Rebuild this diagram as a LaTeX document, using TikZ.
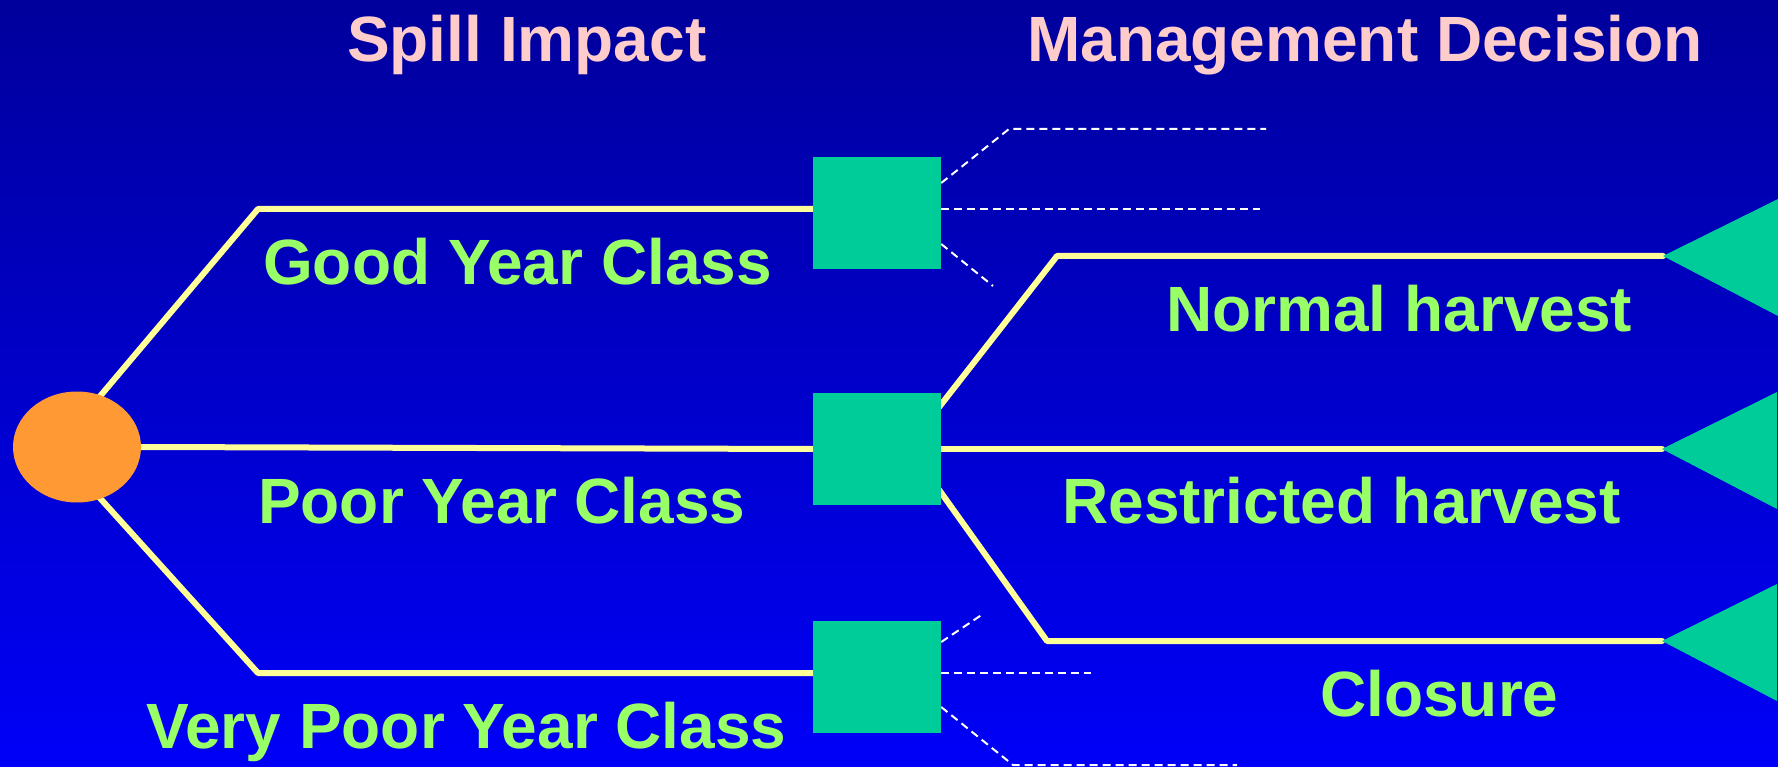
\documentclass[tikz,border=0pt]{standalone}
\usepackage{fontspec}
\setmainfont{Liberation Sans}
\usetikzlibrary{calc,shapes.geometric}
\pgfdeclarelayer{bg}
\pgfdeclarelayer{lines}
\pgfsetlayers{bg,lines,main}
\definecolor{bgtop}{HTML}{00009C}
\definecolor{bgbot}{HTML}{0000F8}
\definecolor{sqcol}{HTML}{00CC99}
\definecolor{circcol}{HTML}{FF9933}
\definecolor{ylw}{HTML}{FFFF99}
\definecolor{grn}{HTML}{99FF66}
\definecolor{pnk}{HTML}{FFCCCC}
\tikzset{
  sqbox/.style={fill=sqcol, minimum width=128pt, minimum height=112pt, inner sep=0pt, draw=none},
  chance/.style={ellipse, fill=circcol, minimum width=128pt, minimum height=111pt, inner sep=0pt},
  ybranch/.style={draw=ylw, line width=6pt, line join=round, line cap=round},
  dbranch/.style={draw=white, line width=2pt, dash pattern=on 8pt off 5pt},
  tri/.style={fill=sqcol},
  lbl/.style={anchor=base west, inner sep=0pt, text=grn, font=\fontsize{64}{70}\selectfont\bfseries},
  ttl/.style={anchor=base west, inner sep=0pt, text=pnk, font=\fontsize{64}{70}\selectfont\bfseries}
}
\begin{document}
\begin{tikzpicture}[x=1pt,y=-1pt]
\begin{pgfonlayer}{bg}
\shade[top color=bgtop, bottom color=bgbot] (0,0) rectangle (1778,767);
\end{pgfonlayer}
\useasboundingbox (0,0) rectangle (1778,767);

% nodes
\node[chance] (c) at (77,447) {};
\node[sqbox] (sq1) at (877,213) {};
\node[sqbox] (sq2) at (877,449) {};
\node[sqbox] (sq3) at (877,677) {};

% coordinates
\coordinate (cu) at (80,420);
\coordinate (cd) at (80,476);
\coordinate (k1) at (258,209);
\coordinate (k3) at (258,673);
\coordinate (u1) at (1057,256);
\coordinate (u3) at (1047,641);
\coordinate (t1) at (1663,256);
\coordinate (t2) at (1662,449);
\coordinate (t3) at (1662,641);
\coordinate (d1) at (1009,129);
\coordinate (d1e) at (1266,129);
\coordinate (d2e) at (1260,209);
\coordinate (d3e) at (993,286);
\coordinate (e1) at (983,614);
\coordinate (e2e) at (1091,673);
\coordinate (e3) at (1013,765);
\coordinate (e3e) at (1237,765);

\begin{pgfonlayer}{lines}
% spill impact branches
\draw[ybranch] (cu) -- (k1) -- (k1 -| sq1.west);
\draw[ybranch] (c.east) -- (sq2.west);
\draw[ybranch] (cd) -- (k3) -- (k3 -| sq3.west);
% management decision branches
\draw[ybranch] ($(sq2.east)+(-2,-42)$) -- (u1) -- (t1);
\draw[ybranch] (sq2.east) -- (t2);
\draw[ybranch] ($(sq2.east)+(-2,41)$) -- (u3) -- (t3);
% dashed (unexpanded) branches
\draw[dbranch] ($(sq1.east)+(0,-30)$) -- (d1) -- (d1e);
\draw[dbranch] ($(sq1.east)+(0,-4)$) -- (d2e);
\draw[dbranch] ($(sq1.east)+(0,31)$) -- (d3e);
\draw[dbranch] ($(sq3.east)+(0,-35)$) -- (e1);
\draw[dbranch] ($(sq3.east)+(0,-4)$) -- (e2e);
\draw[dbranch] ($(sq3.east)+(0,30)$) -- (e3) -- (e3e);
\end{pgfonlayer}

% terminal triangles
\fill[tri] (t1) -- ++(115,-57) -- ++(0,117) -- cycle;
\fill[tri] (t2) -- ++(115,-57) -- ++(0,117) -- cycle;
\fill[tri] (t3) -- ++(115,-57) -- ++(0,117) -- cycle;

% titles
\node[ttl] (h1) at (347,62) {Spill Impact};
\node[ttl] (h2) at (1027,62) {Management Decision};

% labels
\node[lbl] (l1) at (263,285) {Good Year Class};
\node[lbl] (l2) at (258,523) {Poor Year Class};
\node[lbl] (l3) at (146,748) {Very Poor Year Class};
\node[lbl] (l4) at (1166,332) {Normal harvest};
\node[lbl] (l5) at (1062,523) {Restricted harvest};
\node[lbl] (l6) at (1320,716) {Closure};
\end{tikzpicture}
\end{document}
